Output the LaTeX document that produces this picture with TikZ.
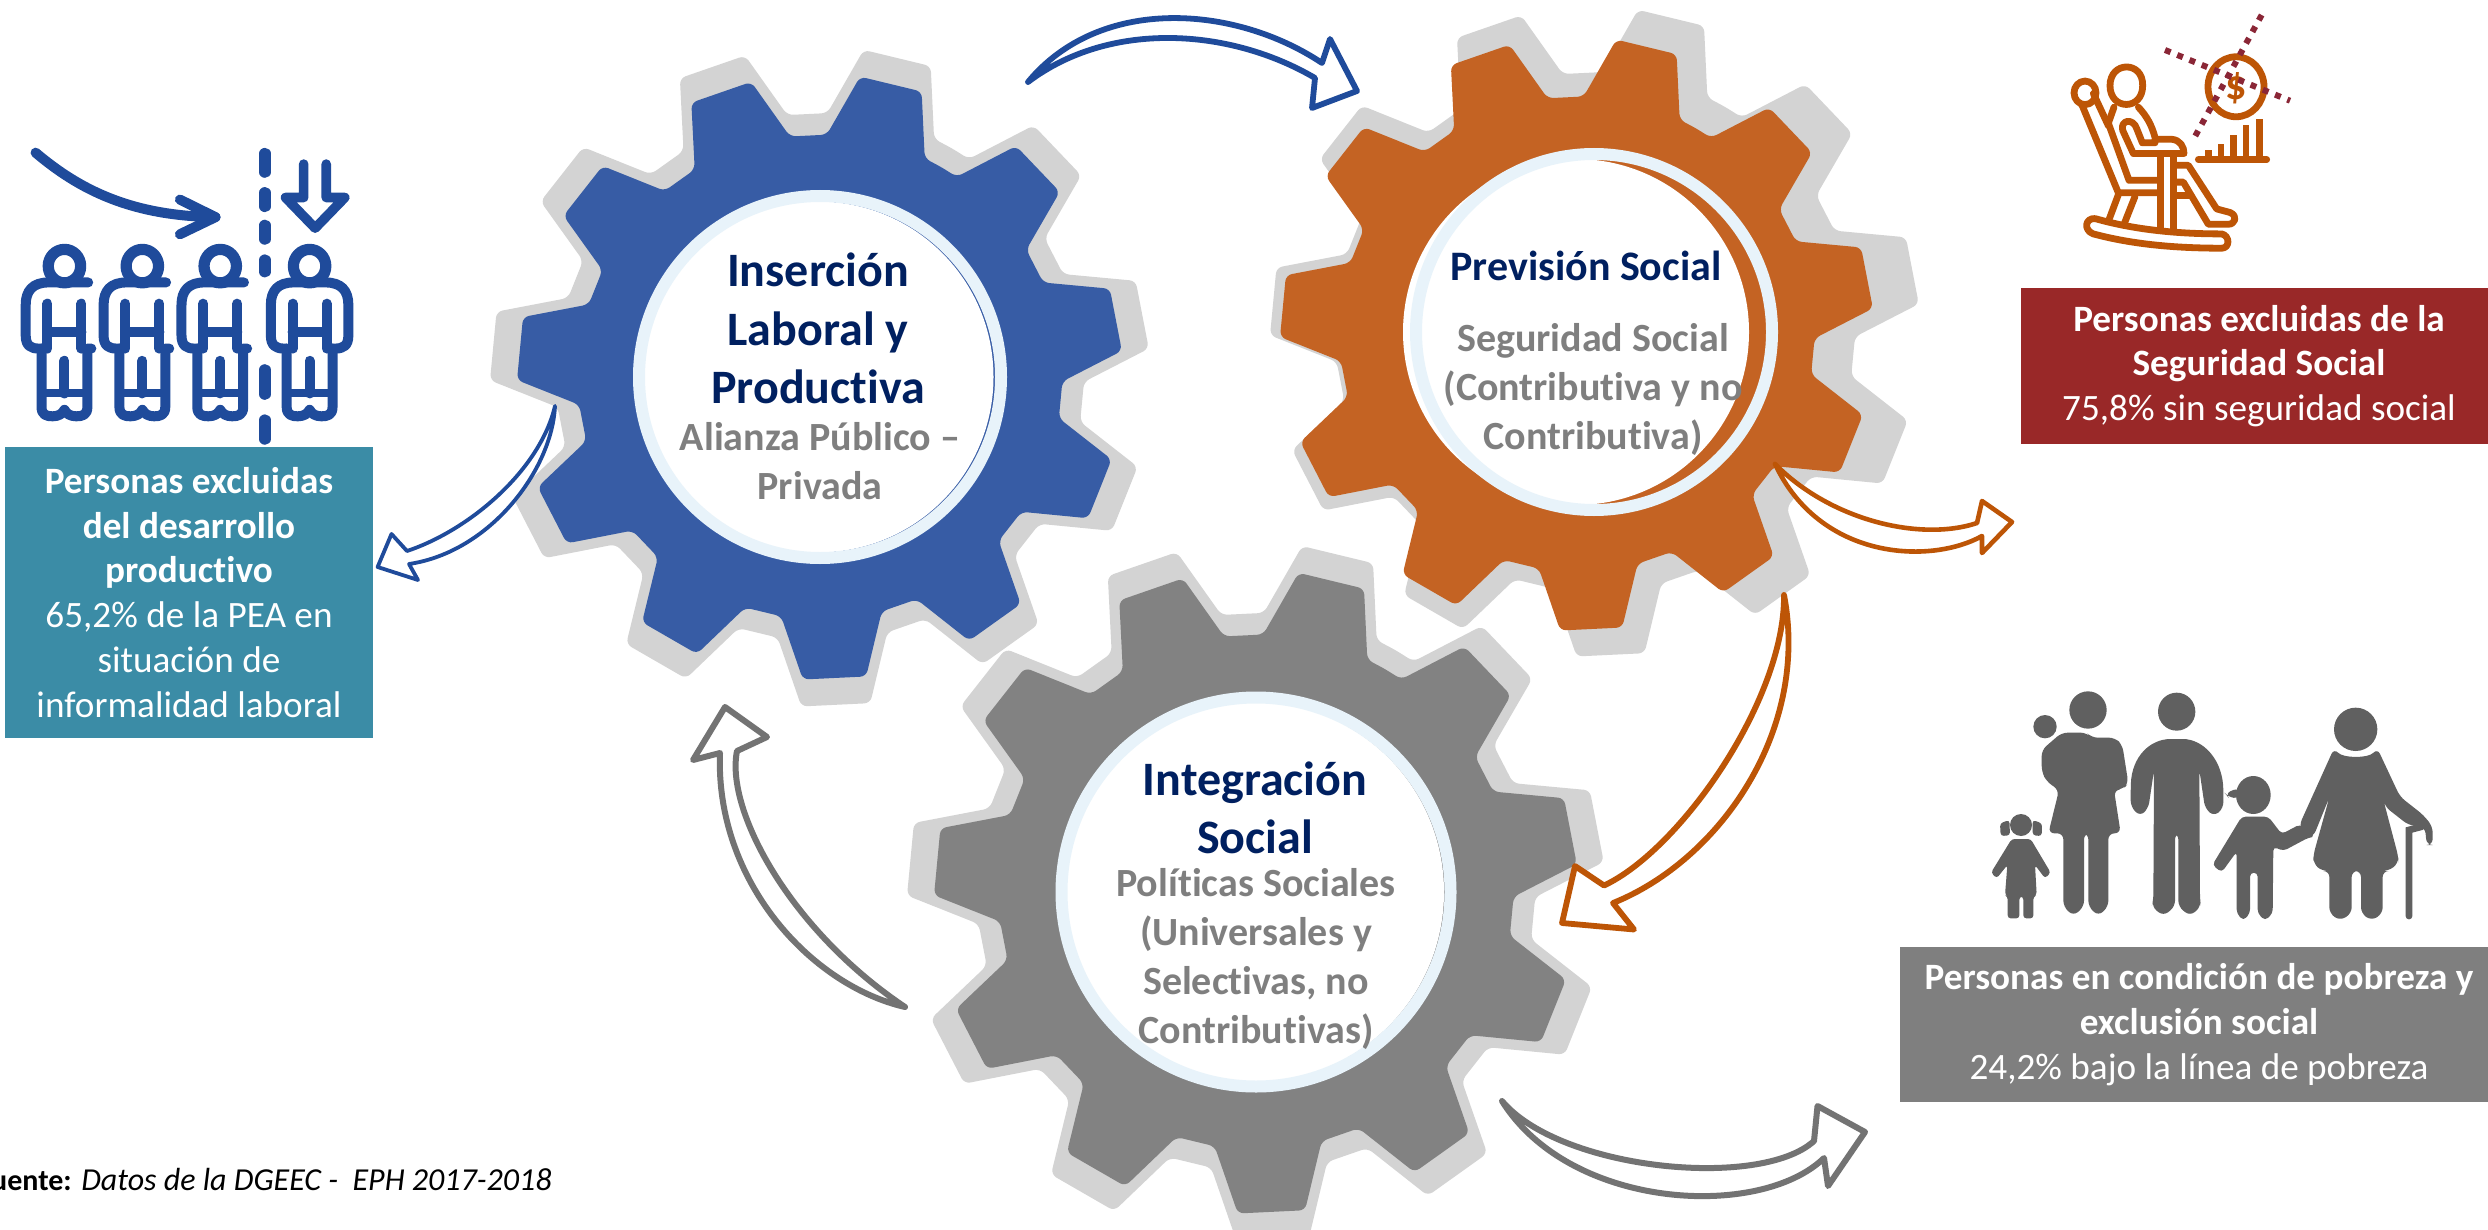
\documentclass[tikz,border=0pt]{standalone}
\usepackage{fontspec}
\setmainfont{Carlito}[Ligatures={NoCommon,TeX}]
\definecolor{cshadow}{HTML}{D3D3D3}
\definecolor{cblue}{HTML}{375CA5}
\definecolor{corange}{HTML}{C46323}
\definecolor{cgear}{HTML}{828282}
\definecolor{cring}{HTML}{E8F3FA}
\definecolor{cnavy}{HTML}{002060}
\definecolor{csub}{HTML}{7F7F7F}
\definecolor{cteal}{HTML}{3B8CA6}
\definecolor{cred}{HTML}{992828}
\definecolor{cbox}{HTML}{7F7F7F}
\definecolor{ciconblue}{HTML}{1F4B9B}
\definecolor{ciconor}{HTML}{BD5506}
\definecolor{cdots}{HTML}{8A2636}
\definecolor{cfam}{HTML}{606060}
\definecolor{carrgrey}{HTML}{737373}
\tikzset{
  titletext/.style={text=cnavy,align=center,inner sep=0pt,font=\fontsize{24}{29.2}\selectfont\bfseries},
  subtext/.style={text=csub,align=center,inner sep=0pt,font=\fontsize{20}{24.4}\selectfont\bfseries},
  boxtext/.style={text=white,align=center,inner sep=0pt,font=\fontsize{18.6}{22.4}\selectfont},
  hollow/.style={fill=white,draw=#1,line join=round,line cap=round},
  iconline/.style={line width=#1,line cap=round,line join=round}
}
% gear: colour, cx, cy, tip radius
\newcommand{\gearat}[4]{%
  \begin{scope}[shift={(#2,#3)},yscale=-1]
  \fill[#1,rounded corners=3pt] (76.4-16.36:0.8*#4)
    \foreach \i in {0,...,10}{
      -- (76.4+\i*32.727-12:0.8*#4)
      -- (76.4+\i*32.727-6:#4)
      -- (76.4+\i*32.727+6:#4)
      -- (76.4+\i*32.727+12:0.8*#4)
    } -- cycle;
  \end{scope}}
\begin{document}
\begin{tikzpicture}[x=0.5pt,y=-0.5pt]
\path[use as bounding box] (0,0) rectangle (2488,1230);
\clip (0,0) rectangle (2488,1230);
\fill[white] (0,0) rectangle (2488,1230);
% ---- gear shadows
\gearat{cshadow}{820}{377}{330}
\gearat{cshadow}{1256}{892}{349}
\gearat{cshadow}{1595}{332}{325}
% ---- gears
\gearat{cblue}{820}{377}{303}
\gearat{cgear}{1256}{892}{322}
\gearat{corange}{1577}{334}{297}
% ---- holes and rings
\fill[white] (818,377) circle[radius=175.5];
\draw[cring,line width=6pt] (820,377) circle[radius=181];
\fill[white] (1254,892) circle[radius=190];
\draw[cring,line width=6pt] (1256,892) circle[radius=194.5];
\fill[white] (1576,332) circle[radius=173];
\draw[cring,line width=6pt] (1594,332) circle[radius=178];
% ---- gear texts
\node[titletext] (tblue) at (818,328.5) {Inserción\\Laboral y\\Productiva};
\node[subtext] (sblue) at (820,461) {Alianza Público –\\Privada};
\node[titletext,font=\fontsize{21}{25}\selectfont\bfseries] (torange) at (1586,266) {Previsión Social};
\node[subtext] (sorange) at (1593,389.5) {Seguridad Social\\(Contributiva y no\\Contributiva)};
\node[titletext] (tgrey) at (1255,808) {Integración\\Social};
\node[subtext] (sgrey) at (1256,959) {Políticas Sociales\\(Universales y\\Selectivas, no\\Contributivas)};
% ---- boxes
\node[boxtext,fill=cteal,minimum width=184pt,minimum height=145.3pt] (bteal) at (189,592.3)
  {\textbf{Personas excluidas}\\\textbf{del desarrollo}\\\textbf{productivo}\\65,2\% de la PEA en\\situación de\\informalidad laboral};
\node[boxtext,fill=cred,minimum width=238pt,minimum height=78pt] (bred) at (2259,366)
  {\textbf{Personas excluidas de la}\\\textbf{Seguridad Social}\\75,8\% sin seguridad social};
\node[boxtext,fill=cbox,minimum width=299pt,minimum height=77.5pt] (bgrey) at (2199,1024.5)
  {\textbf{Personas en condición de pobreza y}\\\textbf{exclusión social}\\24,2\% bajo la línea de pobreza};
\node[anchor=base east,inner sep=0pt,font=\fontsize{16}{19}\selectfont] (src) at (552,1190)
  {{\fontsize{15}{18}\selectfont\textbf{uente:}} \textit{Datos de la DGEEC -\ \ EPH 2017-2018}};
% ---- hollow arrows
\coordinate (a1t) at (1028,82); \coordinate (a1h) at (1357,91);
\draw[hollow=ciconblue,line width=2.9pt] (a1t) .. controls (1100,-5) and (1235,5) .. (1322,63)
  -- (1330,39) -- (a1h) -- (1312,108) -- (1315,78) .. controls (1230,28) and (1110,20) .. (a1t);
\coordinate (a2t) at (555,406); \coordinate (a2h) at (377.6,567);
\draw[hollow=ciconblue,line width=1.9pt] (a2t) .. controls (540,470) and (470,530) .. (407,551)
  -- (391.5,534) -- (a2h) -- (418,580) -- (409,564) .. controls (490,552) and (552,470) .. (a2t);
\coordinate (a3t) at (1775,464); \coordinate (a3h) at (2012,522);
\draw[hollow=ciconor,line width=2.3pt] (a3t) .. controls (1830,520) and (1920,542) .. (1977,523)
  -- (1982,501) -- (a3h) -- (1982,553) -- (1982,536) .. controls (1930,565) and (1820,560) .. (a3t);
\coordinate (a4t) at (1784,595); \coordinate (a4h) at (1562,923);
\draw[hollow=ciconor,line width=2.9pt] (a4t) .. controls (1785,700) and (1680,850) .. (1604,885.5)
  -- (1575,866) -- (a4h) -- (1634,929.5) -- (1613,903) .. controls (1720,860) and (1810,730) .. (a4t);
\coordinate (a5t) at (1502,1101); \coordinate (a5h) at (1865,1132);
\draw[hollow=carrgrey,line width=3pt] (a5t) .. controls (1560,1170) and (1760,1190) .. (1814,1141)
  -- (1817.5,1106) -- (a5h) -- (1828,1186) -- (1824,1158) .. controls (1760,1220) and (1570,1210) .. (a5t);
\coordinate (a6t) at (905,1007); \coordinate (a6h) at (725,707);
\draw[hollow=carrgrey,line width=3pt] (a6t) .. controls (810,985) and (715,880) .. (720,753)
  -- (693,760) -- (a6h) -- (767,737) -- (737,751) .. controls (725,810) and (790,930) .. (a6t);
% ---- people icon
\begin{scope}[shift={(0,120)},xscale=1/2.529,yscale=1/2.45,ciconblue,iconline=5pt]
  \foreach \px in {163,360,557}{
    \begin{scope}[shift={(\px,358)}]
      \draw[line width=5.6pt] (0,0) circle[radius=41];
      \draw (-58,202) -- (-58,345) .. controls (-58,365) and (-45,368) .. (-30,368)
        .. controls (-15,368) and (-5,362) .. (0,352)
        .. controls (5,362) and (15,368) .. (30,368)
        .. controls (45,368) and (58,365) .. (58,345) -- (58,202) -- (68,202);
      \draw[line width=4pt] (-58,312) -- (58,312);
      \draw (0,232) -- (0,312);
      \draw (-43,92) -- (-43,202);
      \draw (43,92) -- (43,202);
      \draw (-43,162) -- (43,162);
      \draw (-58,202) -- (-65,202) .. controls (-85,202) and (-98,195) .. (-98,170) -- (-98,95)
        .. controls (-98,60) and (-80,40) .. (-40,40) -- (60,40);
    \end{scope}}
  \begin{scope}[shift={(783,358)}]
      \draw[line width=5.6pt] (0,0) circle[radius=41];
      \draw (-58,202) -- (-58,345) .. controls (-58,365) and (-45,368) .. (-30,368)
        .. controls (-15,368) and (-5,362) .. (0,352)
        .. controls (5,362) and (15,368) .. (30,368)
        .. controls (45,368) and (58,365) .. (58,345) -- (58,202);
      \draw[line width=4pt] (-58,312) -- (58,312);
      \draw (0,232) -- (0,312);
      \draw (-43,92) -- (-43,202);
      \draw (43,92) -- (43,202);
      \draw (-43,162) -- (43,162);
      \draw (-58,202) -- (-65,202) .. controls (-85,202) and (-98,195) .. (-98,170) -- (-98,95)
        .. controls (-98,60) and (-80,40) .. (-40,40) -- (40,40)
        .. controls (80,40) and (98,60) .. (98,95) -- (98,170)
        .. controls (98,195) and (85,202) .. (65,202) -- (58,202);
  \end{scope}
  \draw[line width=5pt] (90,80) .. controls (200,170) and (330,235) .. (545,238);
  \draw[line width=5pt] (455,195) -- (545,238) -- (455,280);
  \foreach \ya/\yb in {82/128,178/212,258/292,343/372,612/672,735/782}{
    \draw[line width=5.6pt] (670,\ya) -- (670,\yb);}
  \draw[line width=4.8pt] (768,108) -- (768,190) -- (722,190) -- (797,265) -- (872,190) -- (825,190) -- (825,108);
\end{scope}
% ---- pensioner icon
\begin{scope}[shift={(1980,0)},xscale=1/3,yscale=1/2.8,ciconor,iconline=3.4pt]
  \draw (390,240) .. controls (390,170) and (490,170) .. (488,240) .. controls (488,310) and (390,310) .. (390,240);
  \draw (315,260) circle[radius=33];
  \draw (305,292) -- (415,540) -- (530,540);
  \draw (340,262) -- (385,352);
  \draw (402,300) -- (385,345) -- (447,505) -- (530,505);
  \draw (475,300) .. controls (500,325) and (515,350) .. (525,385);
  \draw (525,390) -- (575,390) .. controls (600,392) and (612,410) .. (612,430) -- (460,430) -- (428,365)
     .. controls (420,335) and (460,330) .. (470,360) -- (487,400) -- (525,400);
  \draw (542,435) -- (542,645);
  \draw (580,435) -- (580,648);
  \draw (590,463) -- (625,463) -- (710,585) -- (750,595) .. controls (775,605) and (765,628) .. (745,628) -- (685,628) -- (610,510) -- (590,510);
  \draw (585,548) -- (630,548);
  \draw (415,545) -- (385,620);
  \draw (465,550) -- (432,628);
  \draw (345,612) .. controls (470,645) and (600,655) .. (725,655)
     .. controls (750,660) and (750,695) .. (725,695) .. controls (590,695) and (460,685) .. (340,655)
     .. controls (310,645) and (315,610) .. (345,612);
  \draw (655,447) -- (860,447);
  \foreach \bx/\by in {685/420,723/403,760/378,798/350,838/332}{\draw[line width=3.4pt,line cap=butt] (\bx,447) -- (\bx,\by);}
  \draw[line width=3.4pt] (768,243) circle[radius=84];
  \node[inner sep=0pt,text=ciconor,font=\fontsize{21}{21}\selectfont\bfseries] (dollar) at (768,246) {\$};
  \draw[cdots,line width=3pt,line cap=butt,dash pattern=on 3pt off 3.6pt] (555,140) -- (930,282);
  \draw[cdots,line width=3pt,line cap=butt,dash pattern=on 3pt off 3.6pt] (845,42) -- (645,382);
\end{scope}
% ---- family icon
\begin{scope}[shift={(1960,690)},scale=1/3,cfam]
  % girl
  \fill (183,405) ellipse[x radius=33,y radius=33];
  \fill[rounded corners=1.5pt] (120,400) -- (148,390) -- (150,436) -- (122,438) -- cycle;
  \fill[rounded corners=1.5pt] (246,400) -- (218,390) -- (218,436) -- (245,438) -- cycle;
  \fill[rounded corners=1.5pt] (155,447) -- (212,447) -- (272,548) -- (255,565) -- (225,525) -- (230,615) -- (220,620) -- (220,685) -- (190,685) -- (190,620) -- (178,620) -- (178,685) -- (143,685) -- (143,620) -- (135,615) -- (142,525) -- (110,565) -- (93,548) -- cycle;
  % woman and baby
  \fill (384,60) ellipse[x radius=56,y radius=56];
  \fill (255,110) ellipse[x radius=35,y radius=35];
  \fill[rounded corners=3pt] (305,128) -- (380,128) -- (395,143) -- (465,143) -- (487,165) -- (505,280) -- (490,297) -- (462,300) -- (482,430) -- (445,430) -- (445,650) -- (415,678) -- (385,650) -- (385,430) -- (372,430) -- (372,650) -- (340,678) -- (310,650) -- (310,430) -- (265,430) -- (297,300) -- (260,275) -- (245,245) -- (245,180) -- cycle;
  % man
  \fill (650,65) ellipse[x radius=56,y radius=57];
  \fill[rounded corners=3pt] (512,300) .. controls (515,200) and (570,147) .. (650,147) .. controls (730,147) and (790,210) .. (790,320) -- (790,355) -- (762,379) -- (735,355) -- (718,240) -- (720,630) -- (723,650) -- (690,678) -- (655,650) -- (655,430) -- (645,430) -- (645,650) -- (610,678) -- (575,650) -- (580,630) -- (582,240) -- (565,355) -- (540,379) -- (512,350) -- cycle;
  % boy
  \fill (880,315) ellipse[x radius=52,y radius=57];
  \fill[rounded corners=3pt] (795,310) -- (838,293) -- (838,325) -- (805,322) -- cycle;
  \fill[rounded corners=2pt] (845,380) -- (925,380) -- (965,432) -- (1020,403) -- (1065,440) -- (1045,443) -- (970,483) -- (940,470) -- (938,670) -- (915,692) -- (893,670) -- (893,548) -- (870,548) -- (870,670) -- (850,692) -- (830,670) -- (830,485) -- (785,547) -- (757,525) -- cycle;
  % grandmother
  \fill (1187,118) ellipse[x radius=65,y radius=65];
  \fill[rounded corners=3pt] (1122,175) .. controls (1150,205) and (1225,205) .. (1252,175) -- (1320,320) -- (1390,375) -- (1418,410) -- (1418,465) -- (1400,465) -- (1395,412) -- (1345,405) -- (1275,350) -- (1268,322) -- (1315,500) -- (1315,520) -- (1285,543) -- (1268,543) -- (1268,670) -- (1235,692) -- (1203,670) -- (1203,543) -- (1175,543) -- (1175,670) -- (1140,692) -- (1108,670) -- (1108,543) -- (1085,543) -- (1060,520) -- (1060,495) -- (1108,322) -- (1060,440) -- (1030,445) -- (1018,405) -- cycle;
  \draw[line width=3.4pt,line cap=round] (1347,678) -- (1347,420) -- (1385,410);
\end{scope}
\end{tikzpicture}
\end{document}
